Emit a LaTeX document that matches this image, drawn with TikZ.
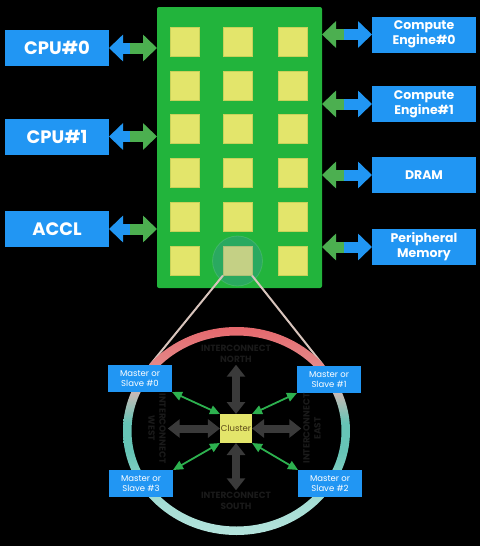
\documentclass[tikz,border=0pt]{standalone}
\usepackage{fontspec}
\setmainfont{Poppins}
\usepackage{tikz}
\usetikzlibrary{arrows.meta, calc, positioning}

\definecolor{boxblue}{HTML}{2196F3}
\definecolor{chipgreen}{HTML}{22B43C}
\definecolor{linkgreen}{HTML}{4CAF50}
\definecolor{smallgreen}{HTML}{2DB14F}
\definecolor{coreyellow}{HTML}{E3E56B}
\definecolor{coreedge}{HTML}{C8D25A}
\definecolor{hlblue}{HTML}{4A80F0}
\definecolor{busgray}{HTML}{3A3A3A}
\definecolor{labgray}{HTML}{1A1A1A}
\definecolor{zoomgray}{HTML}{D8C4BC}
\definecolor{clustertext}{HTML}{5A4818}
\definecolor{ringred}{HTML}{E5686D}
\definecolor{ringpink}{HTML}{E48888}
\definecolor{ringgray}{HTML}{C6BAB6}
\definecolor{ringteal}{HTML}{66C4B6}
\definecolor{ringlight}{HTML}{A4DCD3}
\definecolor{ringlow}{HTML}{B4E3DC}

\pgfdeclareverticalshading{ringshade}{100bp}{color(0bp)=(ringlow); color(25bp)=(ringlow); color(33bp)=(ringlight); color(45bp)=(ringteal); color(52bp)=(ringteal); color(59bp)=(ringgray); color(66bp)=(ringpink); color(75bp)=(ringred); color(100bp)=(ringred)}

\begin{document}
\begin{tikzpicture}[x=1pt, y=-1pt,
        every node/.style={outer sep=0pt, inner sep=1pt},
        unit/.style={fill=boxblue, text=white, align=center, minimum width=104pt, minimum height=36pt},
        bigtext/.style={font=\fontsize{18}{20}\selectfont\bfseries},
        smalltext/.style={font=\fontsize{12.5}{15}\selectfont\bfseries},
        chip/.style={fill=chipgreen, rounded corners=2pt, minimum width=165pt, minimum height=281pt},
        core/.style={fill=coreyellow, draw=coreedge, line width=0.8pt, minimum size=29pt, inner sep=0pt},
        bluehead/.style={boxblue, line width=11pt, -{Triangle[width=26pt, length=14pt]}},
        greenhead/.style={linkgreen, line width=11pt, -{Triangle[width=26pt, length=14pt]}},
        port/.style={fill=boxblue, text=white, align=center, minimum width=64pt, minimum height=27pt,
            font=\fontsize{8.5}{10}\selectfont},
        cluster/.style={fill=coreyellow, text=clustertext, minimum width=30pt, minimum height=29pt,
            font=\fontsize{8.5}{9}\selectfont},
        buslabel/.style={text=labgray, align=center, inner sep=2pt, font=\fontsize{9}{11}\selectfont\bfseries},
        bus/.style={busgray, line width=8pt, >={Triangle[width=18pt, length=12pt]}, <->},
        link/.style={smallgreen, line width=1.8pt, >={Triangle[width=9pt, length=10pt]}, <->},
        zoomln/.style={zoomgray, line width=2pt},
    ]
        \fill[black] (0,0) rectangle (480,546);
        \useasboundingbox (0,0) rectangle (480,546);

        % the chip with its cores
        \node[chip] (chip) at (239.5,147.5) {};
        \foreach \r in {0,...,5}
            \foreach \c/\x in {0/184.5, 1/237.5, 2/293}
                \node[core] (c\r\c) at (\x, {41.5+43.9*\r}) {};
        \fill[hlblue, fill opacity=0.2] (c51) circle (25);
        \draw[white, opacity=0.12, line width=0.8pt] (c51) circle (25);

        % units on both sides
        \node[unit, bigtext] (cpu0) at (57,48) {CPU\#0};
        \node[unit, bigtext] (cpu1) at (57,136.5) {CPU\#1};
        \node[unit, bigtext] (accl) at (57,229) {ACCL};
        \node[unit, smalltext] (ce0) at (424,34.5) {Compute\\Engine\#0};
        \node[unit, smalltext] (ce1) at (424,104) {Compute\\Engine\#1};
        \node[unit, smalltext] (dram) at (424,175) {DRAM};
        \node[unit, smalltext] (pmem) at (424,247) {Peripheral\\Memory};

        \foreach \n in {cpu0, cpu1, accl} {
            \path (chip.west |- \n.east) coordinate (\n-c);
            \coordinate (\n-m) at ($(\n.east)!0.5!(\n-c)$);
            \draw[bluehead] ([xshift=2pt]\n-m) -- (\n.east);
            \draw[greenhead] ([xshift=-3pt]\n-m) -- (\n-c);
        }
        \foreach \n in {ce0, ce1, dram, pmem} {
            \path (chip.east |- \n.west) coordinate (\n-c);
            \coordinate (\n-m) at ($(\n.west)!0.5!(\n-c)$);
            \draw[greenhead] ([xshift=3pt]\n-m) -- (\n-c);
            \draw[bluehead] ([xshift=-3pt]\n-m) -- (\n.west);
        }

        % zoom into one cluster
        \coordinate (zl) at (150,365);
        \coordinate (zr) at (323,365);
        \draw[zoomln] (c51.south west) -- (zl);
        \draw[zoomln] (c51.south east) -- (zr);

        \coordinate (hub) at (236.5,431);
        \shade[shading=ringshade, even odd rule] (hub) ellipse [x radius=113.5, y radius=104]
            (hub) ellipse [x radius=105, y radius=95.5];

        \node[cluster] (cl) at (236,428.5) {Cluster};
        \node[port] (p0) at (140,378.5) {Master or\\Slave \#0};
        \node[port] (p1) at (329,379.5) {Master or\\Slave \#1};
        \node[port] (p2) at (330,483.5) {Master or\\Slave \#2};
        \node[port] (p3) at (141,483.5) {Master or\\Slave \#3};

        \node[buslabel] (north) at (236,354) {INTERCONNECT\\NORTH};
        \node[buslabel] (south) at (236,501) {INTERCONNECT\\SOUTH};
        \node[buslabel, rotate=-90] (west) at (157,428.5) {INTERCONNECT\\WEST};
        \node[buslabel, rotate=90] (east) at (312,428.5) {INTERCONNECT\\EAST};

        \foreach \s in {north, south, west, east}
            \draw[bus] (cl) -- (\s);
        \foreach \p/\a/\b in {p0/south east/north west, p1/south west/north east,
                p2/north west/south east, p3/north east/south west}
            \draw[link] (\p.\a) -- (cl.\b);
    \end{tikzpicture}
\end{document}
